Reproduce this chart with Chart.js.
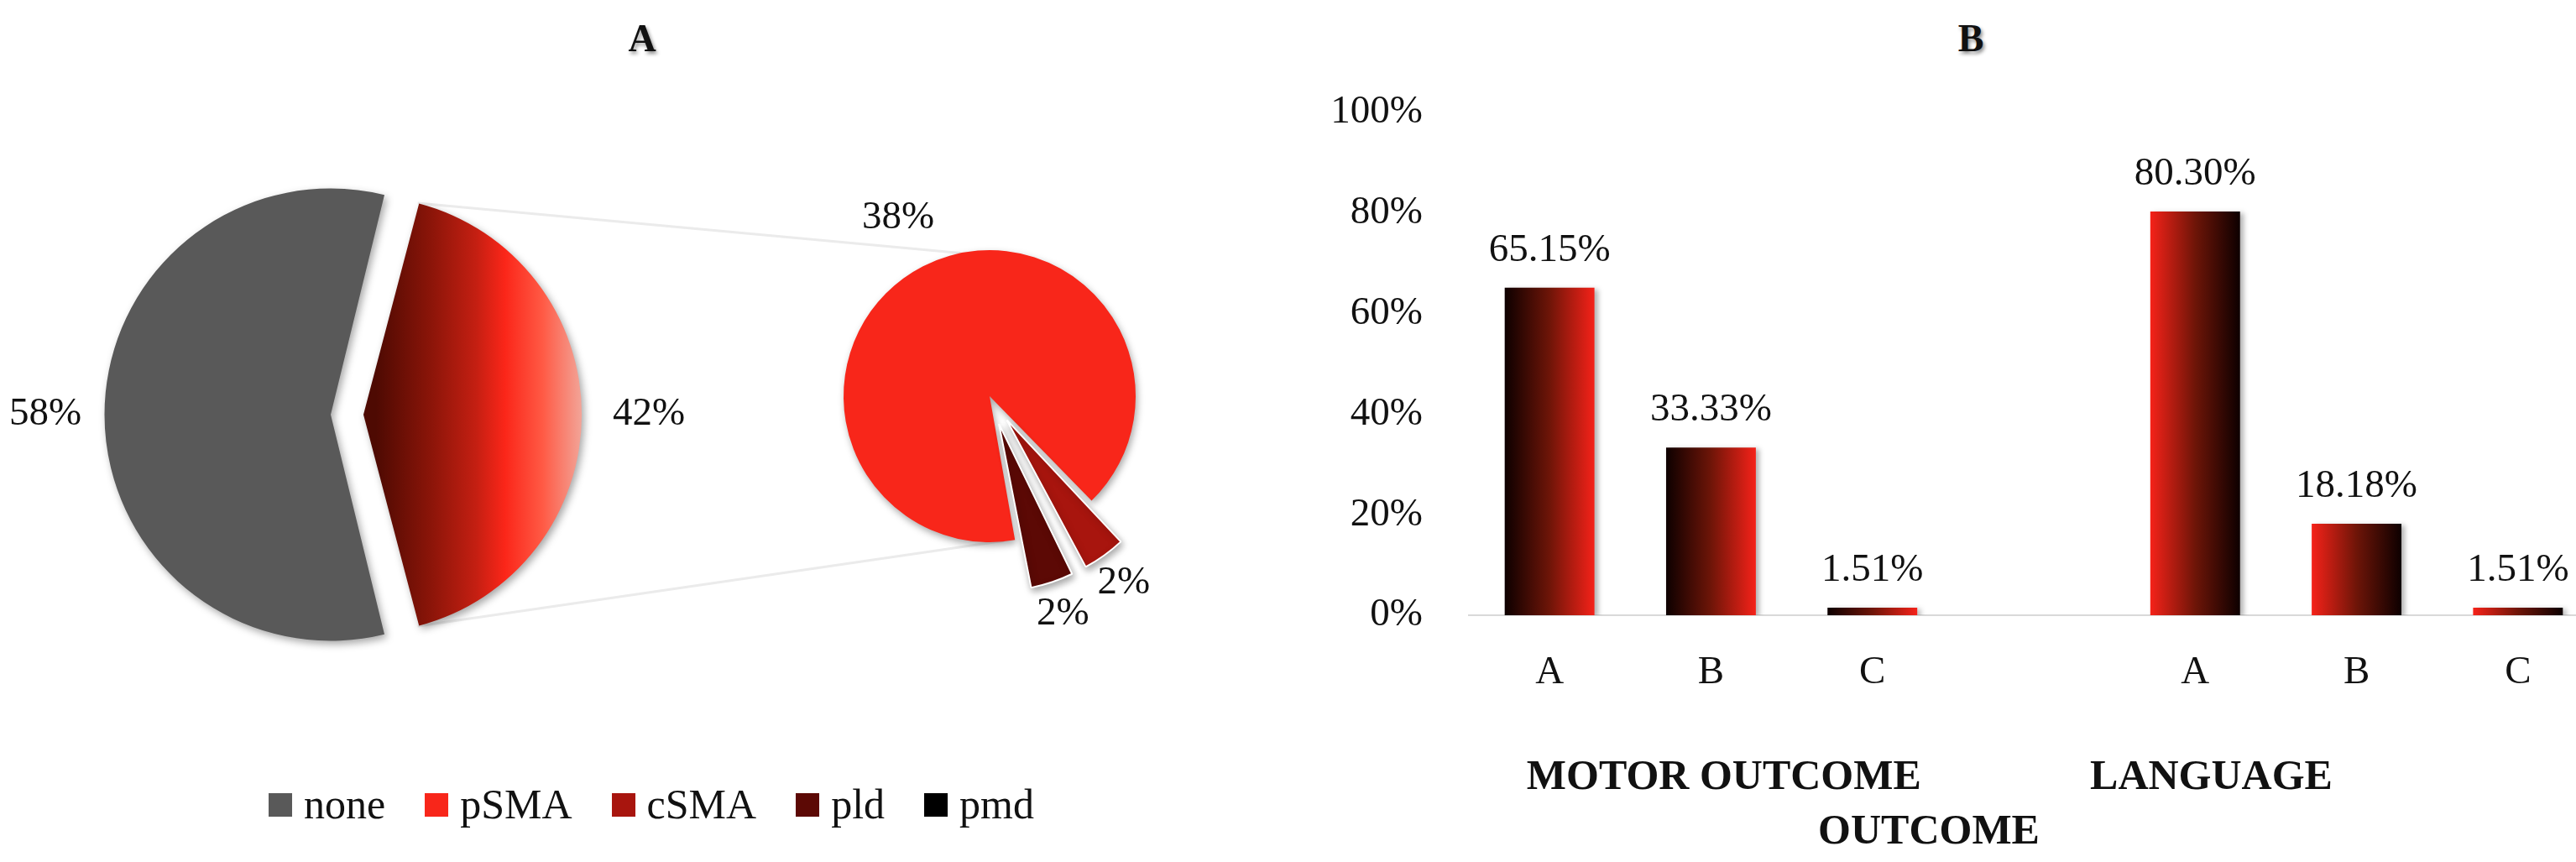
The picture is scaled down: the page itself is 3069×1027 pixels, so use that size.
<!DOCTYPE html>
<html>
<head>
<meta charset="utf-8">
<title>SMA and outcome</title>
<script src="https://cdn.jsdelivr.net/npm/chart.js@4.4.1/dist/chart.umd.min.js"></script>
<style>
    html, body { margin: 0; padding: 0; background: #fff; overflow: hidden; }
    #fig { position: relative; width: 3069px; height: 1027px; overflow: hidden; font-family: 'Liberation Serif', serif; color: #111; }
    canvas { position: absolute; top: 0; }
    .panel-title { position: absolute; top: 20px; font-weight: bold; font-size: 46px; line-height: 52px; transform: translateX(-50%); text-shadow: 2px 3px 4px rgba(0, 0, 0, 0.45); }
    #legendA { position: absolute; top: 930px; left: 776px; transform: translateX(-50%); display: flex; align-items: center; gap: 47px; font-size: 50px; line-height: 57px; white-space: nowrap; }
    .lg-item { display: flex; align-items: center; gap: 14px; }
    .lg-box { width: 28px; height: 28px; }
</style>
</head>
<body>
<div id="fig">
    <canvas id="linksA" width="1540" height="1027" style="left:0; z-index:0"></canvas>
    <canvas id="mainPie" width="827" height="988" style="left:0; z-index:1"></canvas>
    <canvas id="smaPie" width="678" height="944" style="left:840px; z-index:1"></canvas>
    <canvas id="outcomeBars" width="1600" height="1027" style="left:1540px; z-index:1"></canvas>
    <div class="panel-title" style="left:765px">A</div>
    <div class="panel-title" style="left:2348px">B</div>
    <div id="legendA"></div>
</div>
<script>
// --- datos ---
const mainLabels = ['none', 'SMA'];
const mainValues = [58, 42];

const smaLabels = ['pSMA', 'cSMA', 'pld', 'pmd'];
const smaValues = [38, 2, 2, 0];

const legendLabels = ['none', 'pSMA', 'cSMA', 'pld', 'pmd'];
const legendColors = ['#595959', '#f8261a', '#a8150e', '#5c0905', '#000000'];

const outcomeCategories = ['A', 'B', 'C'];
const motorValues = [65.15, 33.33, 1.51];
const languageValues = [80.30, 18.18, 1.51];
const groupNames = ['MOTOR OUTCOME', 'LANGUAGE OUTCOME'];
const yTicks = [0, 20, 40, 60, 80, 100];

Chart.defaults.font.family = "'Liberation Serif', serif";
Chart.defaults.color = '#111';

const MAIN_RADIUS = 250;
const SMA_RADIUS = 174;
const BAR_PCT = 0.556;

// sombra suave debajo de los elementos
const softShadow = {
    id: 'softShadow',
    beforeDatasetsDraw(chart, args, opts) {
        const c = chart.ctx;
        c.save();
        c.shadowColor = opts.color || 'rgba(0,0,0,0.3)';
        c.shadowBlur = opts.blur || 8;
        c.shadowOffsetX = opts.x || 3;
        c.shadowOffsetY = opts.y || 3;
    },
    afterDatasetsDraw(chart) {
        chart.ctx.restore();
    }
};

// porcentajes fuera del pastel
const pieLabels = {
    id: 'pieLabels',
    afterDraw(chart, args, opts) {
        const c = chart.ctx;
        const meta = chart.getDatasetMeta(0);
        const data = chart.data.datasets[0].data;
        c.save();
        c.font = "47px 'Liberation Serif'";
        c.fillStyle = '#111';
        c.textAlign = 'center';
        c.textBaseline = 'middle';
        meta.data.forEach((arc, i) => {
            if (!data[i]) return;
            const mid = (arc.startAngle + arc.endAngle) / 2;
            const shift = (arc.options.offset || 0) / 4;
            const d = arc.outerRadius + shift + opts.gap;
            c.fillText(data[i] + '%', arc.x + Math.cos(mid) * d, arc.y + Math.sin(mid) * d);
        });
        c.restore();
    }
};

// gris para "none", degradado rojo para la porción SMA
function mainColor(context) {
    if (context.dataIndex !== 1) return legendColors[0];
    const chart = context.chart;
    const area = chart.chartArea;
    if (!area) return legendColors[1];
    const cx = (area.left + area.right) / 2;
    const g = chart.ctx.createLinearGradient(cx + 15, 0, cx + MAIN_RADIUS + 30, 0);
    g.addColorStop(0, '#4e0a02');
    g.addColorStop(0.25, '#8c1509');
    g.addColorStop(0.45, '#c41f12');
    g.addColorStop(0.58, '#fb2619');
    g.addColorStop(0.75, '#ff5a45');
    g.addColorStop(0.9, '#f49a8c');
    g.addColorStop(1, '#f0c4be');
    return g;
}

// ==========================================================================
// A. Pastel principal (none vs SMA)
// ==========================================================================
const mainChart = new Chart(document.getElementById('mainPie'), {
    type: 'pie',
    data: {
        labels: mainLabels,
        datasets: [{
            data: mainValues,
            backgroundColor: mainColor,
            borderWidth: 0,
            offset: 78
        }]
    },
    options: {
        responsive: false,
        animation: false,
        radius: MAIN_RADIUS,
        rotation: 165.6,
        plugins: {
            legend: { display: false },
            tooltip: { enabled: false },
            softShadow: { color: 'rgba(0,0,0,0.35)', blur: 10, x: 3, y: 4 },
            pieLabels: { gap: 90 }
        }
    },
    plugins: [softShadow, pieLabels]
});

// ==========================================================================
// A. Pastel secundario (desglose SMA)
// ==========================================================================
const smaChart = new Chart(document.getElementById('smaPie'), {
    type: 'pie',
    data: {
        labels: smaLabels,
        datasets: [{
            data: smaValues,
            backgroundColor: legendColors.slice(1),
            borderColor: '#ffffff',
            borderWidth: [0, 2, 2, 0],
            offset: [0, 140, 140, 0]
        }]
    },
    options: {
        responsive: false,
        animation: false,
        radius: SMA_RADIUS,
        rotation: 170,
        plugins: {
            legend: { display: false },
            tooltip: { enabled: false },
            softShadow: { color: 'rgba(0,0,0,0.35)', blur: 8, x: 2, y: 4 },
            pieLabels: { gap: 65 }
        }
    },
    plugins: [softShadow, pieLabels]
});

// líneas de conexión entre los dos pasteles
(function drawLinks() {
    const canvas = document.getElementById('linksA');
    const c = canvas.getContext('2d');
    const red = mainChart.getDatasetMeta(0).data[1];
    const shift = (red.options.offset || 0) / 4;
    const mid = (red.startAngle + red.endAngle) / 2;
    const ox = red.x + Math.cos(mid) * shift;
    const oy = red.y + Math.sin(mid) * shift;
    const R = red.outerRadius + shift * (1 - Math.sin(Math.min(Math.PI, red.circumference)));
    const smaEl = smaChart.getDatasetMeta(0).data[0];
    const sx = smaEl.x + parseFloat(smaChart.canvas.style.left);
    const sy = smaEl.y;
    const sr = smaEl.outerRadius;
    c.strokeStyle = '#ebebeb';
    c.lineWidth = 3;
    c.beginPath();
    c.moveTo(ox + Math.cos(red.startAngle) * R, oy + Math.sin(red.startAngle) * R);
    c.lineTo(sx - sr * 0.2, sy - sr * 0.98);
    c.moveTo(ox + Math.cos(red.endAngle) * R, oy + Math.sin(red.endAngle) * R);
    c.lineTo(sx + sr * 0.1, sy + sr * 0.99);
    c.stroke();
})();

// leyenda del panel A
const legendBox = document.getElementById('legendA');
legendLabels.forEach((lab, i) => {
    const item = document.createElement('div');
    item.className = 'lg-item';
    const box = document.createElement('span');
    box.className = 'lg-box';
    box.style.background = legendColors[i];
    const txt = document.createElement('span');
    txt.textContent = lab;
    item.appendChild(box);
    item.appendChild(txt);
    legendBox.appendChild(item);
});

// ==========================================================================
// B. Barras de resultado motor / lenguaje
// ==========================================================================
const barLabels = [...outcomeCategories, '', ...outcomeCategories];
const barValues = [...motorValues, null, ...languageValues];

function barGradient(context) {
    const chart = context.chart;
    const xs = chart.scales.x;
    if (!chart.chartArea || !xs || context.type !== 'data') return '#a01a10';
    const i = context.dataIndex;
    const cx = xs.getPixelForValue(i);
    const half = xs.width / barLabels.length * BAR_PCT / 2;
    const g = chart.ctx.createLinearGradient(cx - half, 0, cx + half, 0);
    const motor = i < outcomeCategories.length;
    const dark = '#0d0000', midc = '#6e1508', bright = '#f52219';
    g.addColorStop(0, motor ? dark : bright);
    g.addColorStop(0.5, midc);
    g.addColorStop(1, motor ? bright : dark);
    return g;
}

const barValueLabels = {
    id: 'barValueLabels',
    afterDraw(chart) {
        const c = chart.ctx;
        const meta = chart.getDatasetMeta(0);
        const data = chart.data.datasets[0].data;
        c.save();
        c.font = "47px 'Liberation Serif'";
        c.fillStyle = '#111';
        c.textAlign = 'center';
        c.textBaseline = 'alphabetic';
        meta.data.forEach((bar, i) => {
            if (data[i] == null) return;
            c.fillText(data[i].toFixed(2) + '%', bar.x, bar.y - 32);
        });
        c.restore();
    }
};

// etiquetas de grupo (como las dejó Excel: "LANGUAGE" y "OUTCOME" partidos)
const groupLabels = {
    id: 'groupLabels',
    afterDraw(chart) {
        const c = chart.ctx;
        const xs = chart.scales.x;
        const slot = xs.width / barLabels.length;
        const at = idx => xs.left + (idx + 0.5) * slot;
        const base = chart.chartArea.bottom;
        const langWords = groupNames[1].split(' ');
        c.save();
        c.font = "bold 50px 'Liberation Serif'";
        c.fillStyle = '#111';
        c.textAlign = 'center';
        c.textBaseline = 'alphabetic';
        c.fillText(groupNames[0], at(1.08), base + 207);
        c.fillText(langWords[0], at(4.1), base + 207);
        c.fillText(langWords[1], at(2.35), base + 272);
        c.restore();
    }
};

new Chart(document.getElementById('outcomeBars'), {
    type: 'bar',
    data: {
        labels: barLabels,
        datasets: [{
            data: barValues,
            backgroundColor: barGradient,
            borderWidth: 0,
            barPercentage: BAR_PCT,
            categoryPercentage: 1
        }]
    },
    options: {
        responsive: false,
        animation: false,
        layout: { padding: { top: 134, right: 44, left: 0, bottom: 0 } },
        plugins: {
            legend: { display: false },
            tooltip: { enabled: false },
            softShadow: { color: 'rgba(0,0,0,0.3)', blur: 6, x: 4, y: 2 }
        },
        scales: {
            x: {
                grid: { display: false, drawTicks: false },
                border: { color: '#d9d9d9', width: 2 },
                ticks: { font: { size: 47 }, color: '#111', padding: 40 },
                afterFit(s) { s.height = 294; }
            },
            y: {
                min: 0,
                max: 100,
                grid: { display: false, drawTicks: false },
                border: { display: false },
                ticks: {
                    font: { size: 47 },
                    color: '#111',
                    padding: 55,
                    callback: v => v + '%'
                },
                afterBuildTicks(s) { s.ticks = yTicks.map(v => ({ value: v })); },
                afterFit(s) { s.width = 210; }
            }
        }
    },
    plugins: [softShadow, barValueLabels, groupLabels]
});
</script>
</body>
</html>
